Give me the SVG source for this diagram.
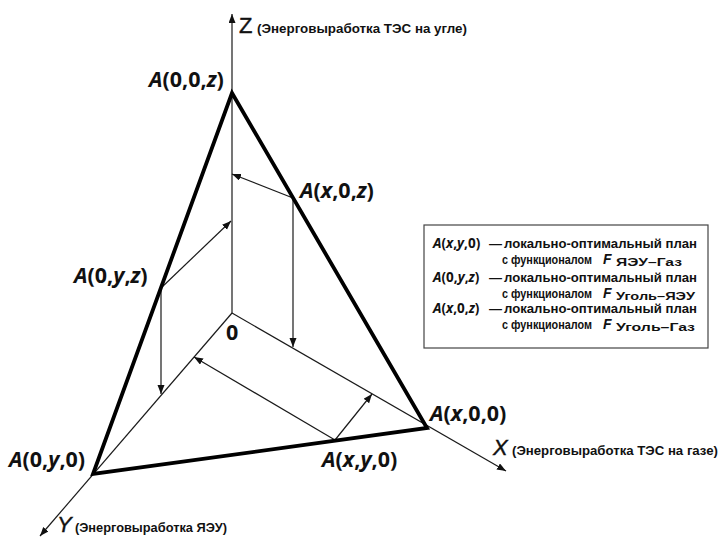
<svg xmlns="http://www.w3.org/2000/svg" width="720" height="537" viewBox="0 0 720 537">
<style>
.thin{stroke:#1a1a1a;stroke-width:1.2;fill:none}
.thick{stroke:#000;stroke-width:3.8;fill:none;stroke-linejoin:miter}
.lbl{font-family:"Open Sans","DejaVu Sans",sans-serif;font-weight:700;font-size:21.5px;fill:#111}
.i{font-style:italic}
.ax{font-family:"Liberation Sans",Arial,sans-serif;font-size:22px;fill:#111;stroke:#111;stroke-width:0.4}
.axs{font-family:"Liberation Sans",Arial,sans-serif;font-weight:bold;font-size:12px;fill:#111}
.lg{font-family:"Liberation Sans",Arial,sans-serif;font-weight:bold;font-size:13px;fill:#111}
.lgv{font-family:"Open Sans","DejaVu Sans",sans-serif;font-weight:700;font-size:13.5px;fill:#111}
.fv{font-family:"Liberation Sans",Arial,sans-serif;font-weight:bold;font-size:14px;font-style:italic}
.sub{font-family:"Liberation Sans",Arial,sans-serif;font-weight:bold;font-size:10.5px;font-style:normal}
</style>
<defs>
<marker id="ar" markerUnits="userSpaceOnUse" markerWidth="10" markerHeight="8" refX="9" refY="3.5" orient="auto">
<path d="M0,0 L9,3.5 L0,7 Z" fill="#111"/>
</marker>
</defs>
<rect width="720" height="537" fill="#fff"/>
<g id="connectors">
<line class="thin" x1="232" y1="313" x2="232" y2="14" marker-end="url(#ar)"/>
<line class="thin" x1="232" y1="313" x2="506" y2="471" marker-end="url(#ar)"/>
<line class="thin" x1="232" y1="313" x2="40" y2="536" marker-end="url(#ar)"/>
<line class="thin" x1="293" y1="198" x2="232" y2="174" marker-end="url(#ar)"/>
<line class="thin" x1="293" y1="198" x2="293" y2="347" marker-end="url(#ar)"/>
<line class="thin" x1="161" y1="288" x2="231" y2="221" marker-end="url(#ar)"/>
<line class="thin" x1="161" y1="288" x2="161" y2="394" marker-end="url(#ar)"/>
<line class="thin" x1="335" y1="440" x2="372" y2="394" marker-end="url(#ar)"/>
<line class="thin" x1="335" y1="440" x2="194" y2="357" marker-end="url(#ar)"/>
<polygon class="thick" points="232,93 427,428 93,474"/>
</g>
<g id="axis-z">
<text class="ax" x="239" y="33">Z</text>
<text class="axs" x="257" y="33" textLength="210" lengthAdjust="spacingAndGlyphs">(Энерговыработка ТЭС на угле)</text>
</g>
<g id="axis-x">
<text class="ax i" x="493" y="455">X</text>
<text class="axs" x="512" y="455" textLength="206" lengthAdjust="spacingAndGlyphs">(Энерговыработка ТЭС на газе)</text>
</g>
<g id="axis-y">
<text class="ax i" x="57" y="532">Y</text>
<text class="axs" x="75" y="532" textLength="152" lengthAdjust="spacingAndGlyphs">(Энерговыработка ЯЭУ)</text>
</g>
<g id="origin"><text class="lbl" x="226" y="340">0</text></g>
<g id="A00z"><text class="lbl" x="149" y="87"><tspan class="i">A</tspan>(0,0,<tspan class="i">z</tspan>)</text></g>
<g id="Ax0z"><text class="lbl" x="300" y="198"><tspan class="i">A</tspan>(<tspan class="i">x</tspan>,0,<tspan class="i">z</tspan>)</text></g>
<g id="A0yz"><text class="lbl" x="74" y="283"><tspan class="i">A</tspan>(0,<tspan class="i">y</tspan>,<tspan class="i">z</tspan>)</text></g>
<g id="A0y0"><text class="lbl" x="9" y="467"><tspan class="i">A</tspan>(0,<tspan class="i">y</tspan>,0)</text></g>
<g id="Axy0"><text class="lbl" x="322" y="467"><tspan class="i">A</tspan>(<tspan class="i">x</tspan>,<tspan class="i">y</tspan>,0)</text></g>
<g id="Ax00"><text class="lbl" x="430" y="421"><tspan class="i">A</tspan>(<tspan class="i">x</tspan>,0,0)</text></g>
<g id="legend">
<rect x="424" y="225" width="284" height="123" fill="#fff" stroke="#444" stroke-width="1.2"/>
<text class="lgv" x="433" y="248"><tspan class="i">A</tspan>(<tspan class="i">x</tspan>,<tspan class="i">y</tspan>,0)</text>
<text class="lg" x="489" y="248">—</text>
<text class="lg" x="504" y="248" textLength="193" lengthAdjust="spacingAndGlyphs">локально-оптимальный план</text>
<text class="lg" x="502" y="264"><tspan textLength="90" lengthAdjust="spacingAndGlyphs">с функционалом</tspan><tspan class="fv" x="603">F</tspan><tspan class="sub" x="616" dy="1.5" textLength="66" lengthAdjust="spacingAndGlyphs">ЯЭУ–Газ</tspan></text>
<text class="lgv" x="433" y="282"><tspan class="i">A</tspan>(0,<tspan class="i">y</tspan>,<tspan class="i">z</tspan>)</text>
<text class="lg" x="489" y="282">—</text>
<text class="lg" x="504" y="282" textLength="193" lengthAdjust="spacingAndGlyphs">локально-оптимальный план</text>
<text class="lg" x="502" y="298"><tspan textLength="90" lengthAdjust="spacingAndGlyphs">с функционалом</tspan><tspan class="fv" x="603">F</tspan><tspan class="sub" x="616" dy="1.5" textLength="79" lengthAdjust="spacingAndGlyphs">Уголь–ЯЭУ</tspan></text>
<text class="lgv" x="433" y="313"><tspan class="i">A</tspan>(<tspan class="i">x</tspan>,0,<tspan class="i">z</tspan>)</text>
<text class="lg" x="489" y="313">—</text>
<text class="lg" x="504" y="313" textLength="193" lengthAdjust="spacingAndGlyphs">локально-оптимальный план</text>
<text class="lg" x="502" y="329"><tspan textLength="90" lengthAdjust="spacingAndGlyphs">с функционалом</tspan><tspan class="fv" x="603">F</tspan><tspan class="sub" x="616" dy="1.5" textLength="79" lengthAdjust="spacingAndGlyphs">Уголь–Газ</tspan></text>
</g>
</svg>
